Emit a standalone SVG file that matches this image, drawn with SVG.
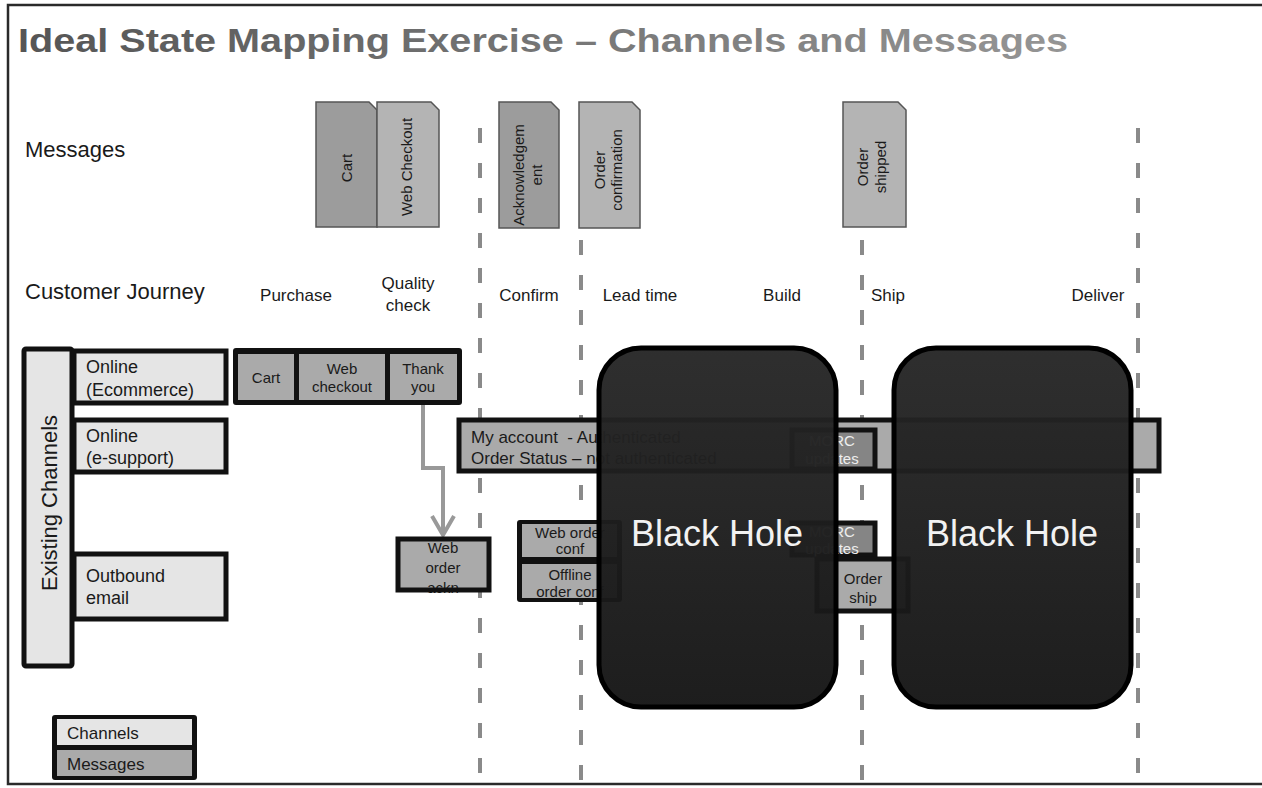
<svg xmlns="http://www.w3.org/2000/svg" width="1262" height="788" viewBox="0 0 1262 788">
<defs>
<linearGradient id="tg" x1="0" y1="0" x2="1" y2="0">
<stop offset="0" stop-color="#555555"/>
<stop offset="1" stop-color="#959595"/>
</linearGradient>
<linearGradient id="bhg" x1="0" y1="0" x2="0" y2="1">
<stop offset="0" stop-color="#262626"/>
<stop offset="1" stop-color="#141414"/>
</linearGradient>
<marker id="chev" markerWidth="14" markerHeight="14" refX="11" refY="7" orient="auto" markerUnits="userSpaceOnUse" overflow="visible">
<path d="M-8,-4 L11,7 L-8,18" fill="none" stroke="#999" stroke-width="4"/>
</marker>
</defs>
<style>
text{font-family:"Liberation Sans",Arial,sans-serif;fill:#1a1a1a}
.lbl{font-size:22px}
.jr{font-size:17px;text-anchor:middle}
.ch{font-size:18px}
.tab{stroke:#555;stroke-width:1.5}
.tdark{fill:#9c9c9c}
.tlight{fill:#b4b4b4}
.tt{font-size:15px;text-anchor:middle}
.chan{fill:#e5e5e5;stroke:#111;stroke-width:5}
.msgc{fill:#aaaaaa}
.blk{fill:#111}
.cell{font-size:15px;text-anchor:middle}
.dash{stroke:#8a8a8a;stroke-width:4;stroke-dasharray:15 20;fill:none}
.bh{fill:url(#bhg);fill-opacity:0.96;stroke:#000;stroke-width:5}
.bht{font-size:36px;fill:#f2f2f2;text-anchor:middle}
.morc{font-size:15px;fill:#eeeeee;text-anchor:middle}
</style>
<rect width="1262" height="788" fill="#ffffff"/>
<rect x="8" y="5" width="1262" height="779" fill="none" stroke="#2a2a2a" stroke-width="2.5"/>

<text x="18" y="52" font-size="33" font-weight="bold" textLength="1050" lengthAdjust="spacingAndGlyphs" style="fill:url(#tg)">Ideal State Mapping Exercise – Channels and Messages</text>

<text class="lbl" x="25" y="157">Messages</text>
<text class="lbl" x="25" y="299">Customer Journey</text>

<g id="timeline">
<line class="dash" x1="480" y1="128" x2="480" y2="785"/>
<line class="dash" x1="581" y1="240" x2="581" y2="785"/>
<line class="dash" x1="862" y1="240" x2="862" y2="785"/>
<line class="dash" x1="1138" y1="128" x2="1138" y2="785"/>
</g>

<g id="journey">
<text class="jr" x="296" y="301">Purchase</text>
<text class="jr" x="408" y="289">Quality</text>
<text class="jr" x="408" y="311">check</text>
<text class="jr" x="529" y="301">Confirm</text>
<text class="jr" x="640" y="301">Lead time</text>
<text class="jr" x="782" y="301">Build</text>
<text class="jr" x="888" y="301">Ship</text>
<text class="jr" x="1098" y="301">Deliver</text>
</g>

<g id="msg-cart">
<path class="tab tdark" d="M316,102 H369 L377,110 V227 H316 Z"/>
<text class="tt" transform="translate(352,168) rotate(-90)">Cart</text>
</g>
<g id="msg-webcheckout">
<path class="tab tlight" d="M377,102 H431 L439,110 V227 H377 Z"/>
<text class="tt" transform="translate(412,167) rotate(-90)">Web Checkout</text>
</g>
<g id="msg-ack">
<path class="tab tdark" d="M499,102 H551 L559,110 V228 H499 Z"/>
<text class="tt" transform="translate(529,175) rotate(-90)"><tspan x="0" y="-5">Acknowledgem</tspan><tspan x="0" y="13">ent</tspan></text>
</g>
<g id="msg-orderconf">
<path class="tab tlight" d="M579,102 H632 L640,110 V228 H579 Z"/>
<text class="tt" transform="translate(610,170) rotate(-90)"><tspan x="0" y="-5">Order</tspan><tspan x="0" y="12">confirmation</tspan></text>
</g>
<g id="msg-ordershipped">
<path class="tab tlight" d="M843,102 H898 L906,110 V227 H843 Z"/>
<text class="tt" transform="translate(875,167) rotate(-90)"><tspan x="0" y="-7">Order</tspan><tspan x="0" y="11">shipped</tspan></text>
</g>

<g id="existing-channels">
<rect class="chan" x="24" y="349" width="48" height="317" rx="2"/>
<text font-size="22" text-anchor="middle" transform="translate(57,503) rotate(-90)">Existing Channels</text>
</g>
<g id="ch-ecommerce">
<rect class="chan" x="74" y="351" width="152" height="52"/>
<text class="ch" x="86" y="373">Online</text>
<text class="ch" x="86" y="396">(Ecommerce)</text>
</g>
<g id="ch-esupport">
<rect class="chan" x="74" y="420" width="152" height="52"/>
<text class="ch" x="86" y="442">Online</text>
<text class="ch" x="86" y="464">(e-support)</text>
</g>
<g id="ch-email">
<rect class="chan" x="74" y="554" width="152" height="65"/>
<text class="ch" x="86" y="582">Outbound</text>
<text class="ch" x="86" y="604">email</text>
</g>

<g id="purchase-row">
<rect class="blk" x="233" y="348" width="229" height="57" rx="3"/>
<rect class="msgc" x="238" y="354" width="56" height="46"/>
<rect class="msgc" x="299" y="354" width="86" height="46"/>
<rect class="msgc" x="390" y="354" width="67" height="46"/>
<text class="cell" x="266" y="383">Cart</text>
<text class="cell" x="342" y="374">Web</text>
<text class="cell" x="342" y="392">checkout</text>
<text class="cell" x="423" y="374">Thank</text>
<text class="cell" x="423" y="392">you</text>
</g>

<g id="connectors">
<polyline points="423,405 423,468 443,468 443,535" fill="none" stroke="#999" stroke-width="4" marker-end="url(#chev)"/>
</g>

<g id="web-order-ackn">
<rect class="msgc" x="398" y="539" width="91" height="51"/>
<text class="cell" x="443" y="553">Web</text>
<text class="cell" x="443" y="573">order</text>
<text class="cell" x="443" y="593">ackn</text>
<rect x="398" y="539" width="91" height="51" fill="none" stroke="#111" stroke-width="5"/>
</g>

<g id="web-order-conf">
<rect class="blk" x="517" y="520" width="105" height="82" rx="3"/>
<rect class="msgc" x="522" y="524" width="95" height="33"/>
<rect class="msgc" x="522" y="564" width="95" height="34"/>
<text class="cell" x="570" y="538">Web order</text>
<text class="cell" x="570" y="554">conf</text>
<text class="cell" x="570" y="580">Offline</text>
<text class="cell" x="570" y="597">order conf</text>
</g>

<g id="my-account">
<rect class="msgc" x="459" y="420" width="700" height="51" stroke="#111" stroke-width="5"/>
<text font-size="17" x="471" y="443" xml:space="preserve">My account  - Authenticated</text>
<text font-size="17" x="471" y="464">Order Status – not authenticated</text>
</g>

<g id="morc1">
<rect x="792" y="430" width="83" height="39" fill="#858585" stroke="#111" stroke-width="5"/>
<text class="morc" x="832" y="446">MORC</text>
<text class="morc" x="832" y="464">updates</text>
</g>
<g id="morc2">
<rect x="792" y="523" width="83" height="32" fill="#858585" stroke="#111" stroke-width="5"/>
<text class="morc" x="832" y="537">MORC</text>
<text class="morc" x="832" y="554">updates</text>
</g>
<g id="order-ship">
<rect x="817" y="559" width="91" height="52" fill="#aaaaaa" stroke="#111" stroke-width="5"/>
<text class="cell" x="863" y="584" font-size="16">Order</text>
<text class="cell" x="863" y="603" font-size="16">ship</text>
</g>

<g id="black-hole-1">
<rect class="bh" x="599" y="348" width="237" height="359" rx="42"/>
<text class="bht" x="717" y="546">Black Hole</text>
</g>
<g id="black-hole-2">
<rect class="bh" x="894" y="348" width="237" height="359" rx="42"/>
<text class="bht" x="1012" y="546">Black Hole</text>
</g>

<g id="legend">
<rect class="blk" x="52" y="715" width="145" height="65" rx="3"/>
<rect x="57" y="719" width="135" height="26" fill="#e5e5e5"/>
<rect class="msgc" x="57" y="750" width="135" height="26"/>
<text font-size="17" x="67" y="739">Channels</text>
<text font-size="17" x="67" y="770">Messages</text>
</g>
</svg>
